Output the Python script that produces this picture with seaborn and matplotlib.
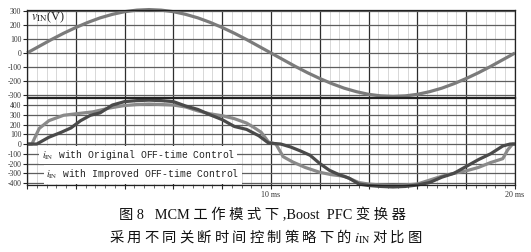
import numpy as np
import pandas as pd
import matplotlib
matplotlib.use('Agg')
import matplotlib.pyplot as plt
import seaborn as sns
from matplotlib.ticker import MultipleLocator, FixedLocator, FixedFormatter

sns.set_theme(style='white')
plt.rcParams['font.family'] = ['Liberation Serif', 'Noto Sans CJK SC']
plt.rcParams['axes.unicode_minus'] = False
plt.rcParams['mathtext.fontset'] = 'stix'

# ---------------- data ----------------
time_vin_ms = [0, 0.5, 1, 1.5, 2, 2.5, 3, 3.5, 4, 4.5, 5, 5.5, 6, 6.5, 7, 7.5, 8, 8.5,
               9, 9.5, 10, 10.5, 11, 11.5, 12, 12.5, 13, 13.5, 14, 14.5, 15, 15.5,
               16, 16.5, 17, 17.5, 18, 18.5, 19, 19.5, 20]
vin_volts = [0, 48, 96, 141, 182, 219, 251, 276, 295, 306, 310, 306, 295, 276, 251,
             219, 182, 141, 96, 48, 0, -48, -96, -141, -182, -219, -251, -276, -295,
             -306, -310, -306, -295, -276, -251, -219, -182, -141, -96, -48, 0]

time_dark_ms = [0, 0.4, 0.9, 1.4, 1.8, 2.2, 2.6, 3.0, 3.5, 4.0, 4.5, 5.0, 5.5, 6.0,
                6.5, 7.0, 7.5, 8.0, 8.5, 9.0, 9.5, 9.9, 10.4, 10.8, 11.2, 11.6, 12.0,
                12.4, 12.8, 13.2, 13.6, 14.0, 14.5, 15.0, 15.5, 16.0, 16.5, 17.0, 17.5,
                18.0, 18.5, 19.0, 19.5, 19.8, 20]
iin_dark = [0, 0, 70, 120, 165, 240, 295, 320, 400, 435, 445, 450, 445, 435, 390, 355,
            300, 250, 180, 150, 85, 10, 0, -30, -70, -115, -200, -270, -315, -350, -410,
            -425, -435, -440, -435, -420, -395, -340, -300, -230, -160, -100, -20, 0, 0]

time_light_ms = [0, 0.2, 0.5, 0.9, 1.5, 2.0, 2.7, 3.4, 4.0, 4.5, 5.0, 5.5, 6.0, 6.5,
                 7.0, 7.5, 8.0, 8.5, 9.0, 9.3, 9.6, 9.9, 10.2, 10.5, 10.9, 11.4, 12.0,
                 12.5, 13.0, 13.6, 14.0, 14.5, 15.0, 15.5, 16.0, 16.5, 17.0, 17.5, 18.0,
                 18.5, 19.0, 19.5, 19.7, 19.9, 20]
iin_light = [0, 0, 160, 240, 295, 310, 330, 370, 395, 405, 410, 405, 400, 380, 340, 310,
             290, 260, 215, 170, 120, 20, 0, -130, -185, -240, -290, -315, -330, -395,
             -410, -420, -425, -420, -410, -370, -330, -300, -275, -240, -190, -150, -60,
             0, 0]

vin_ticks = [300, 200, 100, 0, -100, -200, -300]
iin_ticks = [400, 300, 200, 100, 0, -100, -200, -300, -400]
x_tick_labels = {10: '10 ms', 20: '20 ms'}

legend_original = r'$i_{\rm IN}$ with Original OFF-time Control'
legend_improved = r'$i_{\rm IN}$ with Improved OFF-time Control'
caption_1 = '图 8   MCM 工 作 模 式 下 ,Boost  PFC 变 换 器'
caption_2 = r'采 用 不 同 关 断 时 间 控 制 策 略 下 的 $i_{\rm IN}$ 对 比 图'

# ---------------- figure ----------------
W, H = 531, 252
fig = plt.figure(figsize=(W / 100, H / 100), dpi=100)
fig.patch.set_facecolor('white')
ax1 = fig.add_axes([27 / W, 1 - 97 / H, 488 / W, 87 / H])
ax2 = fig.add_axes([27 / W, 1 - 185 / H, 488 / W, 87 / H])

df_vin = pd.DataFrame({'t': time_vin_ms, 'v': vin_volts})
df_dark = pd.DataFrame({'t': time_dark_ms, 'i': iin_dark})
df_light = pd.DataFrame({'t': time_light_ms, 'i': iin_light})

sns.lineplot(data=df_vin, x='t', y='v', ax=ax1, color='#7b7b7b', lw=2.3,
             estimator=None, sort=False)
sns.lineplot(data=df_light, x='t', y='i', ax=ax2, color='#8a8a8a', lw=2.3,
             estimator=None, sort=False)
sns.lineplot(data=df_dark, x='t', y='i', ax=ax2, color='#4a4a4a', lw=2.3,
             estimator=None, sort=False)
for ln in ax1.lines + ax2.lines:
    ln.set_clip_on(False)
    ln.set_solid_capstyle('butt')

for ax in (ax1, ax2):
    ax.set_xlim(0, 20)
    ax.xaxis.set_major_locator(MultipleLocator(2))
    ax.xaxis.set_minor_locator(MultipleLocator(0.4))
    ax.grid(which='minor', axis='x', color='#d2d2d2', lw=0.6)
    ax.grid(which='major', axis='x', color='#2e2e2e', lw=0.9)
    ax.grid(which='major', axis='y', color='#5e5e5e', lw=0.9)
    ax.set_axisbelow(True)
    ax.set_xlabel('')
    ax.set_ylabel('')
    for s in ax.spines.values():
        s.set_color('#222222')
        s.set_linewidth(0.9)
    ax.tick_params(axis='y', which='major', direction='out', length=3, width=0.8,
                   pad=1, labelsize=5.5, labelcolor='#333333', left=True)

ax1.set_ylim(-314, 307)
ax1.yaxis.set_major_locator(FixedLocator(vin_ticks))
ax1.tick_params(axis='x', which='both', length=0, labelbottom=False)

ax2.set_ylim(-420, 472)
ax2.yaxis.set_major_locator(FixedLocator(iin_ticks))
ax2.set_xticks(list(range(0, 21, 2)))
ax2.xaxis.set_major_formatter(FixedFormatter(
    [x_tick_labels.get(v, '') for v in range(0, 21, 2)]))
ax2.tick_params(axis='x', which='major', direction='out', length=3, width=0.8,
                pad=1.5, labelsize=5.8, labelcolor='#333333', bottom=True)
ax2.tick_params(axis='x', which='minor', direction='out', length=1.8, width=0.5,
                bottom=True)

ax1.text(0.18, 252, r'$v_{\rm IN}$(V)', fontsize=9, color='#222222',
         va='center', ha='left', family=['Liberation Serif'])

box = dict(facecolor='white', edgecolor='none', boxstyle='square,pad=0.25')
ax2.text(0.6, -113, legend_original, fontsize=7, family=['Liberation Mono'],
         color='#222222', va='center', ha='left', bbox=box)
ax2.text(0.78, -308, legend_improved, fontsize=7, family=['Liberation Mono'],
         color='#222222', va='center', ha='left', bbox=box)

fig.text(0.495, 1 - 215 / H, caption_1, fontsize=10.3, ha='center', va='center',
         color='#111111')
fig.text(0.5, 1 - 237 / H, caption_2, fontsize=10.3, ha='center', va='center',
         color='#111111', family=['Noto Sans CJK SC'])

fig.savefig('out.png', dpi=100, facecolor='white')
